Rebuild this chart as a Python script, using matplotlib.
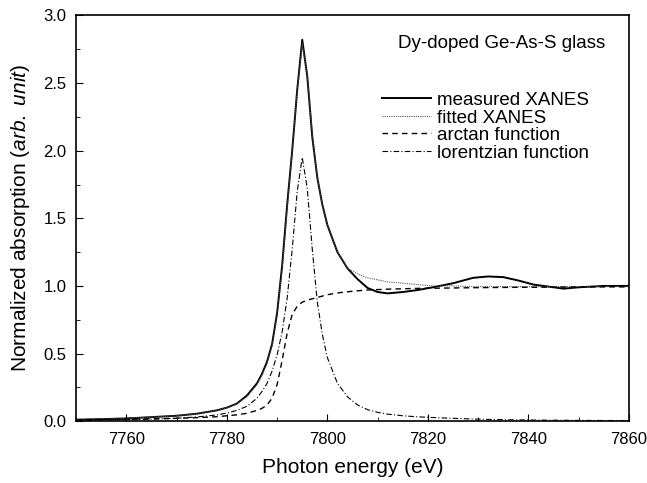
import matplotlib
matplotlib.use("Agg")
import matplotlib.pyplot as plt
from matplotlib.ticker import MultipleLocator

plt.rcParams['font.family'] = ['Liberation Sans', 'DejaVu Sans']
plt.rcParams['mathtext.fontset'] = 'custom'
plt.rcParams['mathtext.rm'] = 'Liberation Sans'
plt.rcParams['mathtext.it'] = 'Liberation Sans:italic'

# photon energy grid (eV)
energy = [7750, 7755, 7760, 7765, 7770, 7774, 7778, 7780, 7782, 7784,
          7786, 7787, 7788, 7789, 7790, 7791, 7792, 7793, 7794, 7795,
          7796, 7797, 7798, 7799, 7800, 7802, 7804, 7806, 7808, 7810,
          7812, 7815, 7818, 7821, 7825, 7829, 7832, 7835, 7838, 7841,
          7844, 7847, 7850, 7855, 7860]

measured = [0.01, 0.015, 0.02, 0.03, 0.04, 0.055, 0.08, 0.10, 0.13, 0.19,
            0.28, 0.35, 0.44, 0.57, 0.80, 1.15, 1.60, 2.00, 2.45, 2.82,
            2.55, 2.10, 1.80, 1.60, 1.45, 1.25, 1.13, 1.05, 0.985, 0.955,
            0.945, 0.955, 0.97, 0.99, 1.02, 1.06, 1.07, 1.065, 1.04, 1.01,
            0.995, 0.98, 0.99, 1.0, 1.0]

fitted = [0.015, 0.018, 0.022, 0.03, 0.04, 0.055, 0.08, 0.10, 0.13, 0.18,
          0.27, 0.34, 0.43, 0.56, 0.79, 1.13, 1.58, 2.00, 2.45, 2.79,
          2.56, 2.12, 1.80, 1.60, 1.45, 1.25, 1.13, 1.09, 1.06, 1.045,
          1.03, 1.02, 1.01, 1.0, 1.0, 0.995, 0.995, 0.995, 0.995, 0.995,
          0.995, 0.995, 0.995, 0.995, 0.995]

arctan = [0.011, 0.013, 0.015, 0.017, 0.021, 0.026, 0.033, 0.04, 0.047, 0.058,
          0.08, 0.095, 0.12, 0.17, 0.27, 0.45, 0.65, 0.79, 0.85, 0.88,
          0.895, 0.905, 0.915, 0.925, 0.935, 0.948, 0.957, 0.964, 0.97, 0.973,
          0.976, 0.979, 0.982, 0.983, 0.985, 0.987, 0.988, 0.989, 0.99, 0.99,
          0.991, 0.992, 0.992, 0.993, 0.993]

lorentzian = [0.0065, 0.0085, 0.011, 0.015, 0.022, 0.031, 0.046, 0.06, 0.08, 0.11,
              0.17, 0.22, 0.28, 0.37, 0.49, 0.66, 0.91, 1.27, 1.70, 1.95,
              1.72, 1.27, 0.88, 0.64, 0.47, 0.28, 0.18, 0.12, 0.085, 0.065,
              0.052, 0.04, 0.032, 0.027, 0.021, 0.016, 0.013, 0.011, 0.0095, 0.0085,
              0.0075, 0.0068, 0.006, 0.005, 0.0045]

fig = plt.figure(figsize=(6.47, 4.83), dpi=100)
ax = fig.add_axes([0.1175, 0.128, 0.8547, 0.84])

ax.plot(energy, measured, color='black', lw=1.4, label='measured XANES')
ax.plot(energy, fitted, color='#555555', lw=0.8, ls=(0, (1, 1)), label='fitted XANES')
ax.plot(energy, arctan, color='black', lw=1.0, ls=(0, (4, 3)), label='arctan function')
ax.plot(energy, lorentzian, color='black', lw=0.8, ls=(0, (5, 2, 1, 2)), label='lorentzian function')

ax.set_xlim(7750, 7860)
ax.set_ylim(0, 3.0)
ax.xaxis.set_major_locator(MultipleLocator(20))
ax.xaxis.set_minor_locator(MultipleLocator(10))
ax.yaxis.set_major_locator(MultipleLocator(0.5))
ax.yaxis.set_minor_locator(MultipleLocator(0.25))
ax.yaxis.set_major_formatter(plt.FormatStrFormatter('%.1f'))
ax.tick_params(which='both', direction='in', labelsize=12, top=False, right=False)
ax.tick_params(which='major', length=5)
ax.tick_params(which='minor', length=3)
ax.tick_params(axis='x', pad=8)
ax.tick_params(axis='y', pad=7)
for s in ax.spines.values():
    s.set_linewidth(1.2)

ax.set_xlabel('Photon energy (eV)', fontsize=15, labelpad=8)
ax.set_ylabel(r'Normalized absorption ($\mathit{arb.\ unit}$)', fontsize=15, labelpad=8)

ax.text(0.583, 0.93, 'Dy-doped Ge-As-S glass', transform=ax.transAxes,
        fontsize=13.5, va='center', ha='left')
ax.legend(loc='upper left', bbox_to_anchor=(0.54, 0.83), frameon=False,
          fontsize=13.5, handlelength=2.6, handletextpad=0.3, labelspacing=0.02,
          borderaxespad=0)

fig.savefig('out.png', dpi=100)
